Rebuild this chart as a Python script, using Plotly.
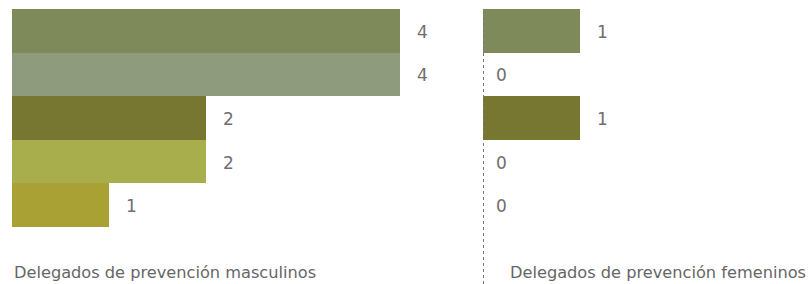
import plotly.graph_objects as go

categories = ["A", "B", "C", "D", "E"]
masculinos = [4, 4, 2, 2, 1]
femeninos = [1, 0, 1, 0, 0]
colors = ["#7F8A5B", "#8E9B7C", "#777732", "#A8AE4C", "#AAA135"]
caption_left = "Delegados de prevención masculinos"
caption_right = "Delegados de prevención femeninos"

W, H = 810, 284
FONT = "DejaVu Sans"
TXT = "#6E6E6E"

fig = go.Figure()
fig.add_trace(go.Bar(y=categories, x=masculinos, orientation="h",
                     marker=dict(color=colors, line=dict(width=0)),
                     xaxis="x", yaxis="y", hoverinfo="skip"))
fig.add_trace(go.Bar(y=categories, x=femeninos, orientation="h",
                     marker=dict(color=colors, line=dict(width=0)),
                     xaxis="x2", yaxis="y2", hoverinfo="skip"))

unit = 97.0
l0, l1 = 12, 470
r0, r1 = 483, 810
ytop, ybot = 9, 227

annotations = []
for c, v in zip(categories, masculinos):
    annotations.append(dict(x=v, y=c, xref="x", yref="y", text=str(v), showarrow=False,
                            xanchor="left", xshift=15, yshift=-1,
                            font=dict(family=FONT, size=17, color=TXT)))
for c, v in zip(categories, femeninos):
    annotations.append(dict(x=v, y=c, xref="x2", yref="y2", text=str(v), showarrow=False,
                            xanchor="left", xshift=11 if v == 0 else 15, yshift=-1,
                            font=dict(family=FONT, size=17, color=TXT)))
annotations.append(dict(x=l0 / W, y=1 - 272 / H, xref="paper", yref="paper", text=caption_left,
                        showarrow=False, xanchor="left", yanchor="middle",
                        font=dict(family=FONT, size=16.2, color="#666666")))
annotations.append(dict(x=508 / W, y=1 - 272 / H, xref="paper", yref="paper", text=caption_right,
                        showarrow=False, xanchor="left", yanchor="middle",
                        font=dict(family=FONT, size=16.2, color="#666666")))

ydom = [1 - ybot / H, 1 - ytop / H]
axis_common = dict(showgrid=False, zeroline=False, showticklabels=False, showline=False, ticks="")
fig.update_layout(
    width=W, height=H,
    margin=dict(l=0, r=0, t=0, b=0),
    paper_bgcolor="white", plot_bgcolor="white",
    showlegend=False, bargap=0,
    xaxis=dict(domain=[l0 / W, l1 / W], range=[0, (l1 - l0) / unit], **axis_common),
    xaxis2=dict(domain=[r0 / W, r1 / W], range=[0, (r1 - r0) / unit], **axis_common),
    yaxis=dict(domain=ydom, autorange="reversed", anchor="x", **axis_common),
    yaxis2=dict(domain=ydom, autorange="reversed", anchor="x2", **axis_common),
    annotations=annotations,
    shapes=[dict(type="line", xref="paper", yref="paper", x0=(r0 + 0.5) / W, x1=(r0 + 0.5) / W,
                 y0=0, y1=1 - ytop / H, line=dict(color="#777777", width=1, dash="dot"))],
)

fig.write_html("out.html", config={"displayModeBar": False, "staticPlot": True},
               post_script="document.body.style.margin='0';document.body.style.overflow='hidden';")
